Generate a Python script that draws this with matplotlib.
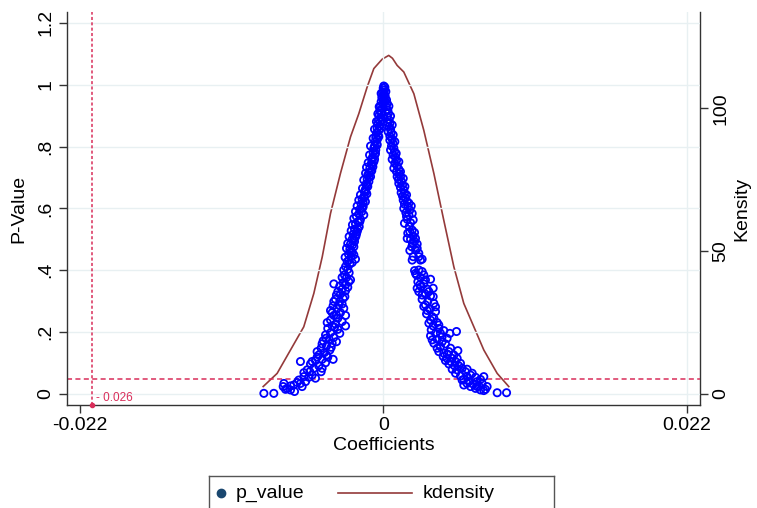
import matplotlib.pyplot as plt
from matplotlib.lines import Line2D
import numpy as np

plt.rcParams['font.family'] = ['Liberation Sans', 'DejaVu Sans']

# placebo coefficients (x 1e-4) and their p-values
coef_left = [0.2, -0.2, 0.7, -0.7, 0.5, -1.2, 0.0, -1.7, -0.5, -2.2,
             -1.0, -2.7, -1.5, -3.1, -1.9, -3.6, -2.4, -4.1, -2.9, -4.6,
             -3.4, -5.1, -3.9, -5.6, -4.4, -6.0, -4.8, -6.5, -7.0, -5.6,
             -7.5, -6.3, -8.0, -8.5, -7.0, -8.9, -7.7, -9.9, -8.5, -10.4,
             -11.4, -9.4, -11.8, -10.6, -12.6, -11.4, -13.1, -13.8, -12.1, -14.3,
             -15.5, -13.1, -16.2, -14.7, -17.2, -15.7, -17.9, -19.6, -16.7, -18.6,
             -20.3, -17.6, -21.0, -19.1, -22.0, -20.1, -22.7, -21.0, -23.9, -21.5,
             -24.4, -22.7, -25.4, -23.4, -20.3, -26.3, -24.4, -27.5, -25.9, -24.9,
             -28.3, -26.8, -23.9, -29.2, -27.5, -25.9, -36.0, -30.0, -33.1, -31.2,
             -28.0, -34.8, -31.7, -30.0, -36.5, -33.6, -38.4, -31.2, -36.0, -27.5,
             -33.1, -38.4, -30.0, -34.8, -37.2, -40.4, -33.1, -27.5, -38.4, -42.0,
             -36.0, -39.4, -43.7, -37.2, -41.3, -45.2, -38.9, -42.8, -46.9, -40.4,
             -44.5, -49.3, -60.2, -42.0, -52.9, -46.9, -50.5, -55.3, -45.2, -57.7,
             -51.7, -54.1, -49.3, -61.4, -56.5, -60.2, -65.0, -72.2, -69.8, -67.4,
             -64.5, -72.7, -86.7, -79.5,
             -1.7, 1.4, -3.1, -4.1, -1.0, -5.1, -2.2, -6.5, -3.4, -7.5,
             -4.6, -9.4, -5.8, -10.1, -6.5, -11.1, -8.2, -12.3, -9.4, -13.0,
             -10.4, -14.3, -11.8, -15.2, -12.8, -16.7, -13.8, -17.9, -14.7, -19.1,
             -15.5, -20.3, -14.3, -21.5, -17.2, -22.5, -18.6, -23.4, -19.6, -24.9,
             -21.5, -25.9, -22.5, -26.8, -23.9, -21.5, -27.8, -25.1, -22.7, -28.8,
             -30.0, -25.1, -31.7, -27.5, -34.1, -29.2, -36.0, -32.4, -28.8, -37.2,
             -34.1, -40.8, -35.5, -31.7, -41.8, -34.1, -44.5, -37.9, -48.1, -41.3,
             -36.5, -48.1, -51.7, -44.5, -53.4, -57.7, -62.6, -67.4, -71.0, -59.0]
p_left = [0.996, 0.989, 0.983, 0.975, 0.967, 0.959, 0.953, 0.945, 0.940, 0.931,
          0.924, 0.916, 0.910, 0.902, 0.895, 0.886, 0.881, 0.873, 0.867, 0.859,
          0.852, 0.843, 0.837, 0.830, 0.824, 0.816, 0.809, 0.802, 0.795, 0.789,
          0.781, 0.773, 0.765, 0.757, 0.751, 0.744, 0.735, 0.730, 0.722, 0.716,
          0.708, 0.703, 0.694, 0.687, 0.679, 0.671, 0.662, 0.654, 0.647, 0.638,
          0.630, 0.622, 0.614, 0.606, 0.597, 0.590, 0.582, 0.574, 0.565, 0.557,
          0.550, 0.541, 0.533, 0.525, 0.517, 0.509, 0.500, 0.493, 0.485, 0.476,
          0.468, 0.459, 0.452, 0.444, 0.436, 0.428, 0.420, 0.412, 0.403, 0.392,
          0.385, 0.377, 0.369, 0.360, 0.353, 0.345, 0.356, 0.339, 0.331, 0.323,
          0.315, 0.306, 0.299, 0.291, 0.285, 0.277, 0.270, 0.263, 0.254, 0.254,
          0.245, 0.239, 0.234, 0.226, 0.220, 0.212, 0.209, 0.220, 0.198, 0.191,
          0.183, 0.177, 0.172, 0.164, 0.155, 0.148, 0.142, 0.134, 0.126, 0.119,
          0.112, 0.108, 0.105, 0.101, 0.097, 0.091, 0.083, 0.078, 0.072, 0.069,
          0.061, 0.054, 0.051, 0.045, 0.040, 0.034, 0.029, 0.034, 0.018, 0.013,
          0.008, 0.024, 0.002, 0.002,
          0.972, 0.945, 0.929, 0.906, 0.886, 0.881, 0.859, 0.856, 0.832, 0.827,
          0.805, 0.802, 0.778, 0.773, 0.759, 0.748, 0.741, 0.733, 0.719, 0.714,
          0.701, 0.692, 0.676, 0.665, 0.654, 0.644, 0.636, 0.627, 0.619, 0.608,
          0.600, 0.590, 0.579, 0.568, 0.557, 0.547, 0.533, 0.528, 0.517, 0.509,
          0.500, 0.487, 0.482, 0.471, 0.460, 0.450, 0.442, 0.433, 0.425, 0.401,
          0.377, 0.363, 0.349, 0.334, 0.320, 0.309, 0.299, 0.288, 0.277, 0.263,
          0.255, 0.231, 0.216, 0.196, 0.180, 0.169, 0.162, 0.151, 0.137, 0.126,
          0.112, 0.119, 0.105, 0.083, 0.072, 0.056, 0.037, 0.026, 0.015, 0.024]
coef_right = [1.0, 1.7, 1.2, 2.2, 2.7, 1.9, 3.1, 3.6, 2.7, 4.1,
              4.6, 3.9, 5.1, 5.6, 4.6, 6.3, 6.8, 5.8, 7.5, 8.0,
              7.0, 8.7, 9.4, 8.2, 9.9, 11.1, 9.4, 11.6, 12.3, 10.9,
              13.1, 13.8, 12.3, 14.7, 15.2, 13.8, 16.0, 17.2, 15.2, 17.6,
              19.1, 16.2, 18.4, 20.8, 17.2, 19.6, 18.6, 20.8, 17.6, 21.5,
              19.6, 22.5, 24.4, 20.5, 23.2, 25.6, 21.5, 26.8, 22.5, 25.6,
              28.0, 23.9, 26.8, 34.1, 24.9, 29.2, 27.3, 31.7, 36.0, 25.6,
              30.4, 34.1, 28.0, 32.1, 36.5, 29.2, 33.6, 37.7, 31.2, 35.3,
              34.1, 38.9, 36.0, 40.1, 34.6, 43.7, 37.7, 48.1, 34.1, 42.5,
              38.9, 52.9, 36.5, 44.9, 41.3, 48.6, 40.1, 46.2, 53.9, 43.3,
              49.8, 44.9, 52.2, 47.4, 54.6, 49.8, 57.0, 52.2, 59.4, 55.8,
              63.1, 58.2, 66.7, 61.9, 70.3, 72.7, 65.0, 58.2, 69.1, 73.9,
              66.7, 63.1, 70.3, 82.4, 89.2,
              -0.2, 0.7, 3.9, 1.4, 5.1, 2.7, 6.3, 3.4, 7.0, 4.6,
              8.2, 5.1, 9.2, 6.3, 11.1, 7.5, 12.3, 9.9, 14.3, 11.1,
              15.5, 12.8, 16.7, 14.3, 18.4, 14.7, 20.1, 16.7, 21.5, 15.2,
              19.1, 22.5, 17.2, 23.2, 21.0, 24.4, 19.1, 25.6, 20.8, 28.0,
              23.2, 29.2, 26.3, 30.4, 24.4, 32.9, 28.0, 36.0, 30.4, 37.7,
              31.7, 36.5, 40.1, 32.9, 41.3, 46.1, 35.3, 42.5, 38.9, 47.4,
              43.7, 51.0, 46.1, 53.4, 48.6, 55.8, 51.5, 60.6, 53.4, 64.3,
              60.6, 67.9, 57.0, 71.5, 75.1, 67.9, 60.6, 72.7]
p_right = [0.992, 0.978, 0.964, 0.951, 0.940, 0.929, 0.918, 0.908, 0.897, 0.886,
           0.875, 0.865, 0.856, 0.845, 0.834, 0.824, 0.811, 0.802, 0.795, 0.784,
           0.773, 0.765, 0.755, 0.746, 0.737, 0.727, 0.719, 0.712, 0.703, 0.694,
           0.687, 0.676, 0.668, 0.660, 0.649, 0.640, 0.633, 0.622, 0.614, 0.606,
           0.595, 0.586, 0.579, 0.584, 0.565, 0.554, 0.541, 0.530, 0.520, 0.511,
           0.500, 0.493, 0.485, 0.476, 0.466, 0.455, 0.444, 0.433, 0.399, 0.401,
           0.396, 0.385, 0.377, 0.371, 0.363, 0.356, 0.347, 0.339, 0.342, 0.331,
           0.323, 0.317, 0.306, 0.299, 0.293, 0.283, 0.274, 0.266, 0.259, 0.250,
           0.239, 0.231, 0.220, 0.212, 0.207, 0.205, 0.196, 0.196, 0.188, 0.185,
           0.177, 0.202, 0.164, 0.162, 0.153, 0.148, 0.137, 0.129, 0.140, 0.121,
           0.115, 0.108, 0.105, 0.097, 0.091, 0.080, 0.083, 0.067, 0.072, 0.058,
           0.061, 0.047, 0.054, 0.040, 0.047, 0.056, 0.032, 0.029, 0.026, 0.015,
           0.018, 0.024, 0.013, 0.004, 0.004,
           0.967, 0.949, 0.931, 0.913, 0.899, 0.878, 0.870, 0.848, 0.838, 0.821,
           0.816, 0.789, 0.778, 0.759, 0.751, 0.730, 0.719, 0.703, 0.697, 0.681,
           0.671, 0.651, 0.644, 0.627, 0.617, 0.600, 0.608, 0.574, 0.563, 0.552,
           0.525, 0.522, 0.503, 0.503, 0.489, 0.471, 0.464, 0.444, 0.433, 0.436,
           0.390, 0.385, 0.353, 0.369, 0.342, 0.331, 0.320, 0.315, 0.288, 0.282,
           0.270, 0.245, 0.223, 0.229, 0.196, 0.180, 0.175, 0.169, 0.148, 0.137,
           0.132, 0.126, 0.115, 0.115, 0.105, 0.099, 0.091, 0.080, 0.078, 0.067,
           0.056, 0.040, 0.045, 0.034, 0.024, 0.024, 0.034, 0.011]

# kernel density of the coefficients (x 1e-4, density)
kd_x = [-87.2, -77.1, -67.4, -57.8, -50.5, -44.4, -38.4, -31.2, -23.9, -17.9,
        -11.8, -7.0, -3.5, -0.9, 3.8, 6.5, 9.9, 14.7, 22.0, 29.2, 36.5, 43.7,
        51.0, 58.2, 65.5, 72.7, 82.4, 90.8]
kd_y = [2.6, 7.2, 15.4, 23.5, 35.2, 48.0, 63.2, 77.2, 90.0, 98.1,
        107.5, 113.9, 115.8, 117.2, 118.5, 117.5, 115.0, 112.7, 105.1, 92.3, 77.2, 60.8,
        44.5, 31.7, 23.5, 15.4, 7.2, 2.6]

x_ticks = [-0.022, 0, 0.022]
x_ticklabels = ['-0.022', '0', '0.022']
p_ticks = [0, 0.2, 0.4, 0.6, 0.8, 1, 1.2]
p_ticklabels = ['0', '.2', '.4', '.6', '.8', '1', '1.2']
kd_ticks = [0, 50, 100]
true_coef = -0.0211
true_label = '- 0.026'
p_cut = 0.05

RED = '#D92E5A'
BROWN = '#943A3A'
GRID = '#E8F0F2'
AXC = '#333333'

fig = plt.figure(figsize=(7.57, 5.08), dpi=100)
ax = fig.add_axes([0.0885, 0.2028, 0.8362, 0.7736])
ax2 = ax.twinx()
ax.set_zorder(2)
ax.patch.set_visible(False)

coef = np.array(coef_left + coef_right) * 1e-4
pval = np.array(p_left + p_right)

ax2.plot(np.array(kd_x) * 1e-4, kd_y, color=BROWN, lw=1.2)
ax.scatter(coef, pval, s=27, facecolors='none', edgecolors='#0000FF',
           linewidths=1.3, zorder=3)

ax.axhline(p_cut, color=RED, lw=1.1, dashes=(3.3, 2.2), zorder=2)
ax.axvline(true_coef, color=RED, lw=1.1, dashes=(2.0, 1.5), zorder=2)

ax.set_xlim(-0.02294, 0.02294)
ax.set_ylim(-0.0356, 1.2354)
ax2.set_ylim(-3.85, 133.7)

ax.scatter([true_coef], [-0.0356], s=9, color=RED, clip_on=False, zorder=4)
ax.annotate(true_label, xy=(true_coef, -0.0356), xytext=(2.5, 5),
            textcoords='offset points', color=RED, fontsize=8.5,
            ha='left', va='center')

ax.set_xticks(x_ticks)
ax.set_xticklabels(x_ticklabels)
ax.set_yticks(p_ticks)
ax.set_yticklabels(p_ticklabels, rotation=90, va='center')
ax2.set_yticks(kd_ticks)
ax2.set_yticklabels([str(t) for t in kd_ticks], rotation=90, va='center')

for a in (ax, ax2):
    a.tick_params(labelsize=14, color=AXC, width=1.0, length=6, pad=3)
    a.spines['top'].set_visible(False)
    for s in a.spines.values():
        s.set_color(AXC)
        s.set_linewidth(1.0)
ax.spines['right'].set_visible(False)
ax2.spines['left'].set_visible(False)
ax2.spines['bottom'].set_visible(False)

for t in p_ticks:
    ax.axhline(t, color=GRID, lw=1.0, zorder=0)
for t in x_ticks[1:]:
    ax.axvline(t, color=GRID, lw=1.0, zorder=0)

ax.set_xlabel('Coefficients', fontsize=14, labelpad=2)
ax.set_ylabel('P-Value', fontsize=14, labelpad=7)
ax2.set_ylabel('Kensity', fontsize=14, labelpad=3)

# legend box, cut by the bottom edge like the original
lg = fig.add_axes([209 / 757, -0.05, 345 / 757, 32 / 508 + 0.05])
lg.set_xlim(209, 554)
lg.set_ylim(508 + 25, 476)
lg.set_xticks([])
lg.set_yticks([])
for s in lg.spines.values():
    s.set_color('#555555')
    s.set_linewidth(1.0)
lg.add_line(Line2D([221], [493], marker='o', ms=6, color='#1A476F', ls='none'))
lg.text(236, 493, 'p_value', fontsize=14, va='center', ha='left')
lg.add_line(Line2D([338, 412], [493, 493], color=BROWN, lw=1.2))
lg.text(423, 493, 'kdensity', fontsize=14, va='center', ha='left')

fig.savefig('out.png', dpi=100)
